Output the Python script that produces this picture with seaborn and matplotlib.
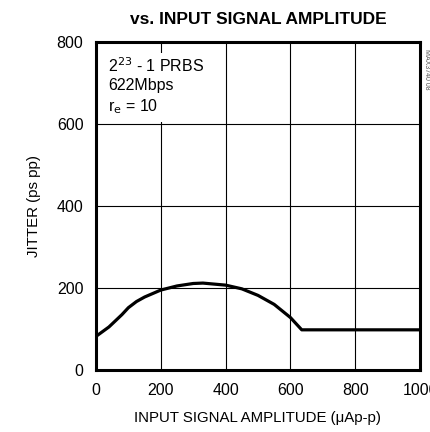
import numpy as np
import pandas as pd
import matplotlib
matplotlib.use("Agg")
import matplotlib.pyplot as plt
from matplotlib.patches import Rectangle
import seaborn as sns

# data
amplitude = [0, 40, 80, 100, 125, 150, 200, 250, 300, 330, 400, 450, 500, 550, 600, 635, 1000]
jitter = [82, 105, 135, 152, 167, 178, 195, 205, 211, 212, 207, 198, 182, 160, 128, 98, 98]
x_ticks = [0, 200, 400, 600, 800, 1000]
y_ticks = [0, 200, 400, 600, 800]

sns.set_style("white")
plt.rcParams['font.family'] = ['Liberation Sans', 'DejaVu Sans']
plt.rcParams['text.color'] = 'black'
plt.rcParams['xtick.color'] = 'black'
plt.rcParams['ytick.color'] = 'black'
plt.rcParams['axes.labelcolor'] = 'black'

df = pd.DataFrame({'amp': amplitude, 'jit': jitter})

fig = plt.figure(figsize=(4.31, 4.32), dpi=100)
ax = fig.add_axes([0.2227, 0.1435, 0.7518, 0.7593])

sns.lineplot(data=df, x='amp', y='jit', ax=ax, color='black', linewidth=2.3, zorder=3)

ax.set_xlim(0, 1000)
ax.set_ylim(0, 800)
ax.set_xticks(x_ticks)
ax.set_yticks(y_ticks)
ax.tick_params(axis='both', length=0, labelsize=11.5, pad=9)
ax.grid(True, color='black', linewidth=0.8)
for s in ax.spines.values():
    s.set_linewidth(2.2)
    s.set_color('black')

ax.set_xlabel('INPUT SIGNAL AMPLITUDE (\u03bcAp-p)', fontsize=10.8, labelpad=10)
ax.set_ylabel('JITTER (ps pp)', fontsize=10.8, labelpad=11)

# white patch behind the conditions text (hides grid there)
ax.add_patch(Rectangle((0.005, 0.755), 0.315, 0.212, transform=ax.transAxes,
                       facecolor='white', edgecolor='none', zorder=2.5))
ax.text(0.037, 0.955, '2$^{23}$ - 1 PRBS\n622Mbps\nr$_{\\rm e}$ = 10', transform=ax.transAxes,
        fontsize=11.5, va='top', ha='left', linespacing=1.25, zorder=4)

fig.text(0.599, 0.956, 'vs. INPUT SIGNAL AMPLITUDE', ha='center', va='center',
         fontsize=12.5, fontweight='bold')
fig.text(0.99, 0.84, 'MAX3740 08', rotation=-90, ha='center', va='center',
         fontsize=5, color='#555555')

fig.savefig('out.png', dpi=100)
